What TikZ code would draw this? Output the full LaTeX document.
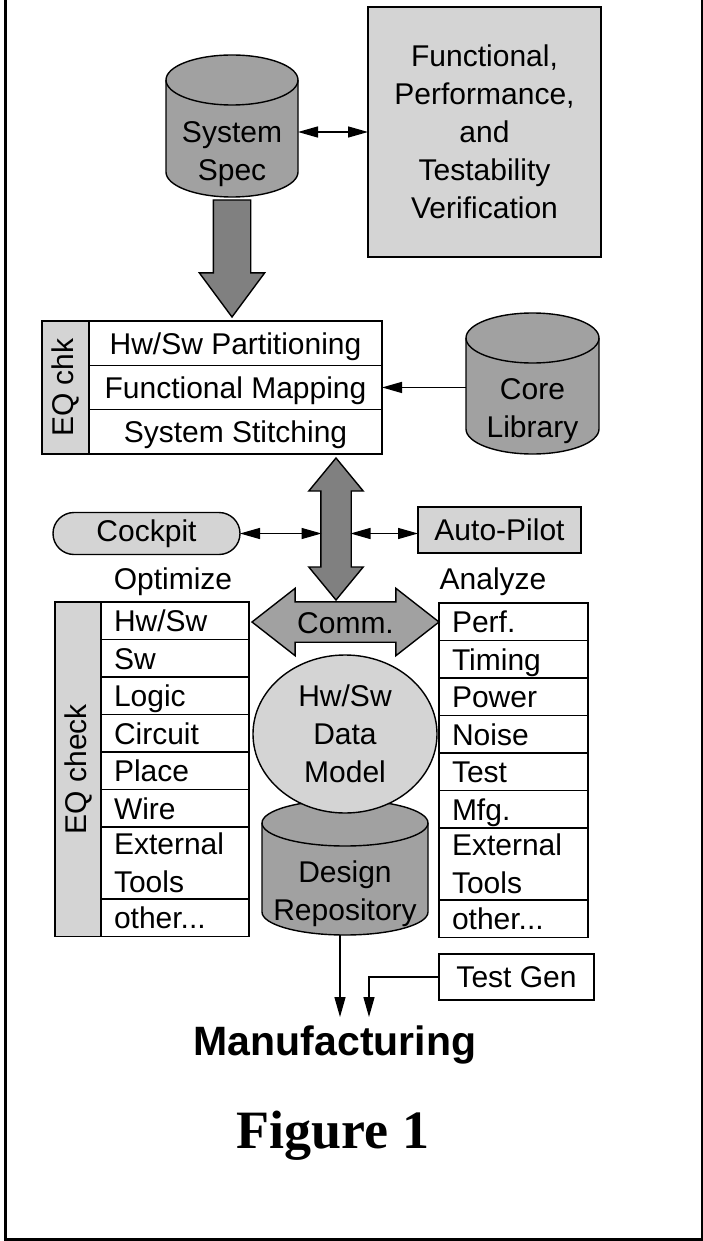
\documentclass[tikz,border=0pt]{standalone}
\usepackage{graphicx}
\usepackage{fontspec}
\setmainfont{Liberation Sans}
\newfontfamily\serifcaption{Liberation Serif}
\usetikzlibrary{positioning,shapes.geometric,shapes.arrows,arrows.meta}

\definecolor{storegray}{gray}{0.63}
\definecolor{pipegray}{gray}{0.5}
\definecolor{panelgray}{gray}{0.83}

\begin{document}
\begin{tikzpicture}[x=1pt, y=-1pt, line width=1.4pt, >={Triangle[length=20pt,width=11pt]},
  every node/.style={font=\fontsize{30}{38}\selectfont, outer sep=0pt},
  partrow/.style={draw, fill=white, minimum width=293pt, minimum height=44.3pt, inner sep=0pt, text height=22pt, text depth=0pt},
  cellbox/.style={draw, fill=white, minimum width=148pt, text width=122pt, inner xsep=13pt, inner ysep=0pt, align=left},
  listrow/.style={cellbox, minimum height=37.5pt, text height=22pt, text depth=0pt},
  tallrow/.style={cellbox, minimum height=72pt},
  storebody/.style={draw, fill=storegray},
  sidebar/.style={draw, fill=panelgray, inner sep=0pt},
  fatarrow/.style={draw, inner sep=0pt, inner xsep=0pt, text height=0pt, text depth=0pt}]

  % frame
  \useasboundingbox (0,0) rectangle (703,1241);
  \draw[line width=2.5pt] (5.5,-20) rectangle (702.5,1239.5);

  % spec and verification
  \node[minimum width=132pt, minimum height=142pt, inner sep=0pt] (spec) at (232,126) {};
  \draw[storebody] ([yshift=-25pt]spec.north west) -- ([yshift=25pt]spec.south west)
    arc[start angle=180, end angle=360, x radius=66pt, y radius=25pt]
    -- ([yshift=-25pt]spec.north east)
    arc[start angle=0, end angle=180, x radius=66pt, y radius=25pt] -- cycle;
  \draw ([yshift=-25pt]spec.north west) arc[start angle=180, end angle=360, x radius=66pt, y radius=25pt];
  \node[align=center] (spectext) at ([yshift=-28pt]spec.center) {System\\Spec};

  \node[draw, fill=panelgray, minimum width=233pt, minimum height=250pt, inner sep=0pt, align=center] (verif) at (484.5,132) {Functional,\\Performance,\\and\\Testability\\Verification};
  \draw[<->] (verif.west -| spec.east) -- (verif.west);
  \node[single arrow, fatarrow, fill=pipegray, inner ysep=18pt, minimum height=117pt, minimum width=64pt,
    single arrow head extend=14pt, single arrow tip angle=73, rotate=-90, anchor=tail] (specdown) at (232,200) {};

  % partitioning block
  \node[partrow, anchor=north west] (part) at (89,321) {Hw/Sw Partitioning};
  \node[partrow, below=0pt of part] (fmap) {Functional Mapping};
  \node[partrow, below=0pt of fmap] (stitch) {System Stitching};
  \node[sidebar, minimum width=47pt, minimum height=133pt, anchor=north east] (eqchk) at (part.north west) {\rotatebox{90}{EQ chk}};

  \node[minimum width=133pt, minimum height=141pt, inner sep=0pt] (core) at (532.5,383.5) {};
  \draw[storebody] ([yshift=-25pt]core.north west) -- ([yshift=25pt]core.south west)
    arc[start angle=180, end angle=360, x radius=66.5pt, y radius=25pt]
    -- ([yshift=-25pt]core.north east)
    arc[start angle=0, end angle=180, x radius=66.5pt, y radius=25pt] -- cycle;
  \draw ([yshift=-25pt]core.north west) arc[start angle=180, end angle=360, x radius=66.5pt, y radius=25pt];
  \node[align=center] (coretext) at ([yshift=-28pt]core.center) {Core\\Library};
  \draw[->] (fmap.east -| core.west) -- (fmap.east);

  % bus with cockpit and auto-pilot
  \node[double arrow, fatarrow, fill=pipegray, inner ysep=14.5pt, minimum height=142pt, minimum width=53pt,
    double arrow head extend=12pt, double arrow tip angle=79, rotate=90] (bus) at (336,529) {};
  \node[draw, fill=panelgray, rounded corners=21pt, minimum width=187pt, minimum height=42pt, inner sep=0pt] (cockpit) at (146.5,533.5) {Cockpit};
  \node[draw, fill=panelgray, minimum width=163pt, minimum height=46pt, inner sep=0pt] (autopilot) at (499.5,530) {Auto-Pilot};
  \draw[<->, shorten >=14.5pt] (cockpit.east) -- (cockpit.east -| bus.center);
  \draw[<->, shorten <=14.5pt] (bus.center |- cockpit.east) -- (autopilot.west |- cockpit.east);

  \node[anchor=base] (optlabel) at (173,589) {Optimize};
  \node[anchor=base] (analabel) at (493,589) {Analyze};

  % optimize column
  \node[listrow, anchor=north west] (ohwsw) at (101,602) {Hw/Sw};
  \node[listrow, below=0pt of ohwsw] (osw) {Sw};
  \node[listrow, below=0pt of osw] (ologic) {Logic};
  \node[listrow, below=0pt of ologic] (ocircuit) {Circuit};
  \node[listrow, below=0pt of ocircuit] (oplace) {Place};
  \node[listrow, below=0pt of oplace] (owire) {Wire};
  \node[tallrow, below=0pt of owire] (oext) {External\\Tools};
  \node[listrow, below=0pt of oext] (oother) {other...};
  \node[sidebar, minimum width=46pt, minimum height=334.5pt, anchor=north east] (eqcheck) at (ohwsw.north west) {\rotatebox{90}{EQ check}};

  % analyze column
  \node[listrow, minimum width=149pt, text width=123pt, anchor=north west] (aperf) at (439,603) {Perf.};
  \node[listrow, minimum width=149pt, text width=123pt, below=0pt of aperf] (atiming) {Timing};
  \node[listrow, minimum width=149pt, text width=123pt, below=0pt of atiming] (apower) {Power};
  \node[listrow, minimum width=149pt, text width=123pt, below=0pt of apower] (anoise) {Noise};
  \node[listrow, minimum width=149pt, text width=123pt, below=0pt of anoise] (atest) {Test};
  \node[listrow, minimum width=149pt, text width=123pt, below=0pt of atest] (amfg) {Mfg.};
  \node[tallrow, minimum width=149pt, text width=123pt, below=0pt of amfg] (aext) {External\\Tools};
  \node[listrow, minimum width=149pt, text width=123pt, below=0pt of aext] (aother) {other...};

  % comm and data model
  \node[double arrow, fatarrow, fill=storegray, text height=22pt, inner ysep=8.5pt, minimum height=187pt, minimum width=66pt,
    double arrow head extend=13.5pt, double arrow tip angle=76] (comm) at (345.5,622) {Comm.};

  \node[minimum width=166pt, minimum height=135pt, inner sep=0pt] (repo) at (345,867.5) {};
  \draw[storebody] ([yshift=-23pt]repo.north west) -- ([yshift=23pt]repo.south west)
    arc[start angle=180, end angle=360, x radius=83pt, y radius=23pt]
    -- ([yshift=-23pt]repo.north east)
    arc[start angle=0, end angle=180, x radius=83pt, y radius=23pt] -- cycle;
  \draw ([yshift=-23pt]repo.north west) arc[start angle=180, end angle=360, x radius=83pt, y radius=23pt];
  \node[align=center] (repotext) at ([yshift=-26pt]repo.center) {Design\\Repository};

  \node[ellipse, draw, fill=panelgray, minimum width=184pt, minimum height=158pt, inner sep=0pt, align=center] (model) at (345,734) {Hw/Sw\\Data\\Model};

  % manufacturing
  \node[font=\fontsize{41}{48}\selectfont\bfseries, anchor=base] (mfg) at (335,1055) {Manufacturing};
  \node[draw, fill=white, minimum width=155pt, minimum height=46pt, inner sep=0pt] (testgen) at (516.5,977) {Test Gen};
  \coordinate (repoin) at (340,1017);
  \coordinate (testin) at (369,1017);
  \draw[->] (repo.south -| repoin) -- (repoin);
  \draw[->] (testgen.west) -| (testin);

  \node[font=\fontsize{54}{60}\selectfont\serifcaption\bfseries, anchor=base] (figlabel) at (333,1148) {Figure 1};
\end{tikzpicture}
\end{document}
